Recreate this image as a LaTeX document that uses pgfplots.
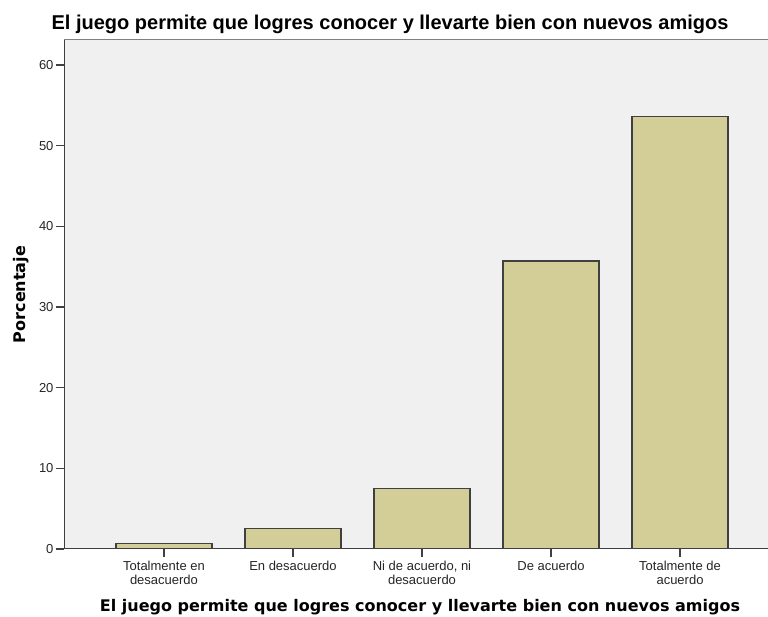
\documentclass[border=0pt]{standalone}
\usepackage{pgfplots}
\pgfplotsset{compat=1.18}
\usepackage{fontspec}
\setmainfont{Liberation Sans}
\newfontfamily\dejab{DejaVu Sans Bold}
\definecolor{barc}{RGB}{211,206,151}
\definecolor{bgc}{RGB}{240,240,240}
\begin{document}
\begin{tikzpicture}[x=1pt,y=1pt]
\path[fill=white] (0,0) rectangle (768,617);
\clip (0,0) rectangle (768,617);
\begin{axis}[at={(64pt,68pt)}, anchor=south west, scale only axis,
  width=716pt, height=509pt,
  xmin=-0.775, xmax=4.775, ymin=0, ymax=63.1,
  axis background/.style={fill=bgc},
  ybar, bar width=96pt,
  xtick={0,1,2,3,4},
  xticklabels={{Totalmente en\\desacuerdo},{En desacuerdo},{Ni de acuerdo, ni\\desacuerdo},{De acuerdo},{Totalmente de\\acuerdo}},
  ytick={0,10,...,60},
  tick pos=left, tick align=outside, major tick length=8pt,
  tick style={black!75, line width=1.3pt},
  axis line style={black!50, line width=1pt},
  /pgf/number format/assume math mode=true,
  yticklabel style={font=\fontsize{13}{13}\selectfont, text=black!85, xshift=1pt},
  xticklabel style={font=\fontsize{13}{14}\selectfont, align=center, text=black!85, yshift=-1pt},
]
\addplot[fill=barc, draw=black!75, line width=1.2pt] coordinates {(0,0.71) (1,2.5) (2,7.5) (3,35.71) (4,53.57)};
\draw[black!75, line width=1.3pt] (rel axis cs:0,1) -- (rel axis cs:0,0) -- (rel axis cs:1,0);
\end{axis}
\node[anchor=base, inner sep=0pt] at (390,587) {\fontsize{20}{20}\selectfont\bfseries El juego permite que logres conocer y llevarte bien con nuevos amigos};
\node[anchor=base, inner sep=0pt] at (420,5) {\fontsize{16}{16}\selectfont\dejab El juego permite que logres conocer y llevarte bien con nuevos amigos};
\node[anchor=base, inner sep=0pt, rotate=90] at (25,322.5) {\fontsize{16}{16}\selectfont\dejab Porcentaje};
\end{tikzpicture}
\end{document}
